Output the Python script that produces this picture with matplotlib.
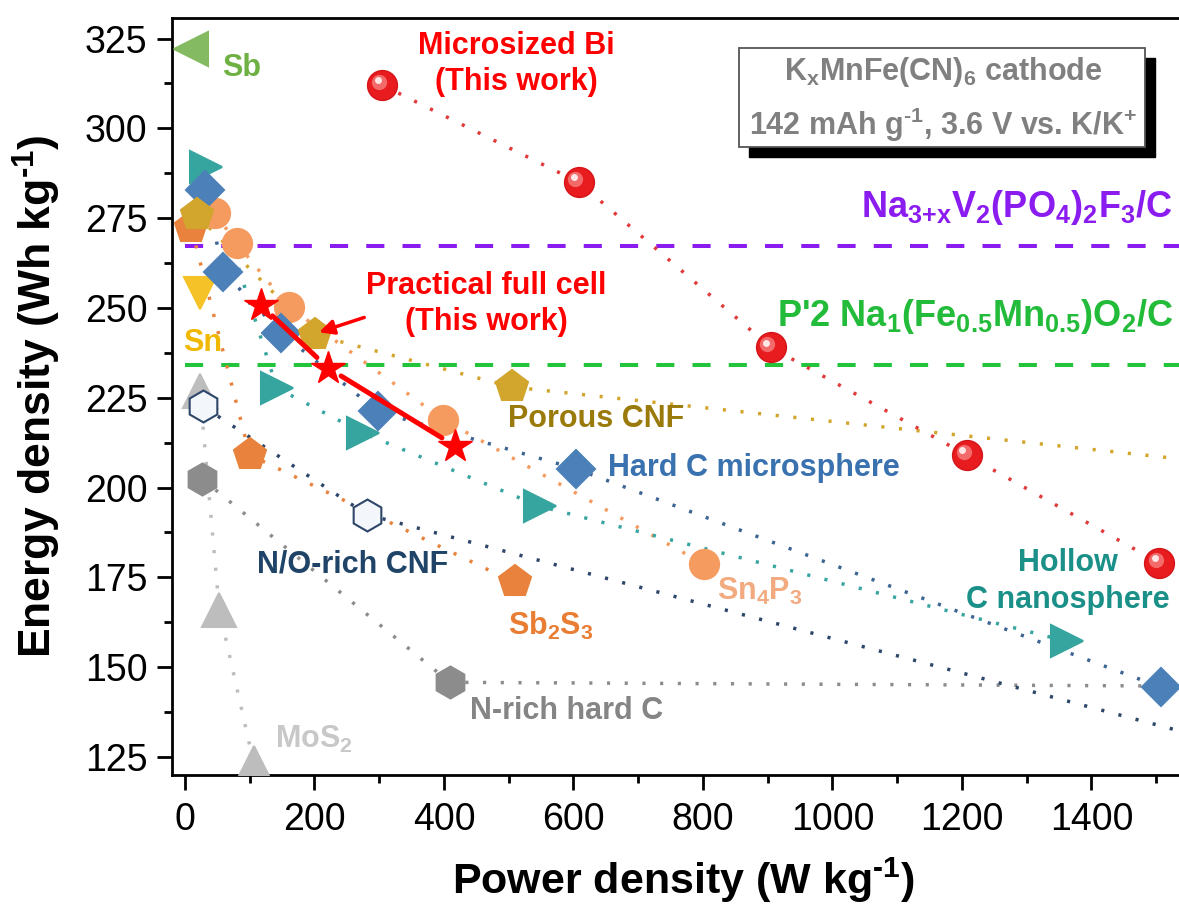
import numpy as np
import matplotlib
matplotlib.use('Agg')
import matplotlib.pyplot as plt
from matplotlib import transforms
from matplotlib.patches import Rectangle
from matplotlib.ticker import MultipleLocator, AutoMinorLocator

plt.rcParams['font.family'] = ['Liberation Sans', 'DejaVu Sans']
plt.rcParams['mathtext.fontset'] = 'custom'
plt.rcParams['mathtext.rm'] = 'Liberation Sans'
plt.rcParams['mathtext.bf'] = 'Liberation Sans:bold'
plt.rcParams['mathtext.it'] = 'Liberation Sans:italic'

# ---- data (power W/kg, energy Wh/kg) ----
bi_power = [305, 608, 905, 1208, 1505]
bi_energy = [312, 285, 239, 209, 179]

cell_power = [118, 221, 417]
cell_energy = [250.7, 233.3, 211.6]

sb_power = [10]
sb_energy = [322]

sn_power = [23]
sn_energy = [254.1]

hollow_power = [33, 142, 275, 548, 1362]
hollow_energy = [289.3, 227.7, 215.2, 194.8, 157.2]

hardc_power = [31, 59, 149, 298, 604, 1508]
hardc_energy = [282.9, 260.1, 243.0, 221.2, 205.2, 144.4]

sn4p3_power = [46, 80, 160, 399, 801]
sn4p3_energy = [276.5, 268.0, 250.4, 218.9, 178.8]

porous_power = [18, 201, 505, 2000]
porous_energy = [275.9, 242.5, 228.0, 199.0]

sb2s3_power = [10, 100, 509]
sb2s3_energy = [272.2, 209.1, 173.6]

mos2_power = [23, 53, 106]
mos2_energy = [226.8, 166.0, 123.4]

nocnf_power = [28, 281, 1800]
nocnf_energy = [222.6, 192.5, 119.6]

nrich_power = [26, 409, 1800]
nrich_energy = [202.5, 145.8, 144.5]

nvpf_level = 267.2      # Na3+xV2(PO4)2F3/C
p2_level = 234.2        # P'2 Na1(Fe0.5Mn0.5)O2/C

HY = '\u2010'   # short hyphen for the "-1" superscripts

fig = plt.figure(figsize=(11.79, 9.06), dpi=100)
ax = fig.add_axes([0.1459, 0.1446, 0.8677, 0.8355])

dot = (0, (0.9, 4.2))
lw_dot = 2.5


def series(x, y, color, marker, ms, lcolor=None, mfc=None, z=3):
    lc = lcolor if lcolor else color
    ax.plot(x, y, linestyle=dot, lw=lw_dot, color=lc, zorder=z)
    ax.plot(x, y, linestyle='none', marker=marker, ms=ms,
            mfc=mfc if mfc else color, mec=color, mew=1.5, zorder=z + 0.5)


series(mos2_power, mos2_energy, '#bdbdbd', '^', 25)
series(nrich_power, nrich_energy, '#8c8c8c', 'h', 23)
series(nocnf_power, nocnf_energy, '#2d4669', 'h', 23, mfc='#f3f6fa')
series(sn_power, sn_energy, '#f5c328', 'v', 23)
series(sb_power, sb_energy, '#84ba62', '<', 24)
series(sb2s3_power, sb2s3_energy, '#e8823c', 'p', 24)
series(sn4p3_power, sn4p3_energy, '#f59b5f', 'o', 21)
series(hollow_power, hollow_energy, '#37a59f', '>', 23)
series(hardc_power, hardc_energy, '#4c80b9', 'D', 19, lcolor='#3d6591')
series(porous_power, porous_energy, '#d2a52d', 'p', 24)

# microsized Bi, glossy red spheres
ax.plot(bi_power, bi_energy, linestyle=dot, lw=lw_dot, color='#e03a3a', zorder=6)
ax.plot(bi_power, bi_energy, linestyle='none', marker='o', ms=21.5,
        mfc='#e81c1f', mec='#d41418', mew=1, zorder=6.5)
shine = transforms.offset_copy(ax.transData, fig=fig, x=-2.5, y=2.5, units='points')
ax.plot(bi_power, bi_energy, linestyle='none', marker='o', ms=11,
        mfc='#f26a6a', mec='none', transform=shine, zorder=6.6)
shine2 = transforms.offset_copy(ax.transData, fig=fig, x=-3.5, y=3.5, units='points')
ax.plot(bi_power, bi_energy, linestyle='none', marker='o', ms=5,
        mfc='#ffe6e6', mec='none', transform=shine2, zorder=6.7)

# practical full cell: red stars joined by solid segments with gaps
for i in range(len(cell_power) - 1):
    ax.annotate('', xy=(cell_power[i + 1], cell_energy[i + 1]),
                xytext=(cell_power[i], cell_energy[i]),
                arrowprops=dict(arrowstyle='-', color='#ff0000', lw=3.6,
                                shrinkA=11, shrinkB=11), zorder=7)
ax.plot(cell_power, cell_energy, linestyle='none', marker='*', ms=25,
        mfc='#ff0000', mec='#ff0000', zorder=8)

# reference cathodes
ax.hlines(nvpf_level, 0, 1700, colors='#8b1cf0', linestyles=(0, (4.5, 4.5)), lw=2.9, zorder=2)
ax.hlines(p2_level, 0, 1700, colors='#22c43c', linestyles=(0, (4.5, 4.5)), lw=2.9, zorder=2)

ax.text(1526, 275.4, r'Na$_{\mathbf{3{+}x}}$V$_{\mathbf{2}}$(PO$_{\mathbf{4}}$)$_{\mathbf{2}}$F$_{\mathbf{3}}$/C',
        color='#8b1cf0', fontsize=26, fontweight='bold', ha='right', va='baseline')
ax.text(1526, 245.0, r"P'2 Na$_{\mathbf{1}}$(Fe$_{\mathbf{0.5}}$Mn$_{\mathbf{0.5}}$)O$_{\mathbf{2}}$/C",
        color='#22bb3a', fontsize=26, fontweight='bold', ha='right', va='baseline')

# labels
lab = dict(fontsize=22, fontweight='bold')
ax.text(512, 318, 'Microsized Bi\n(This work)', color='#ff0000', ha='center', va='center',
        linespacing=1.25, **lab)
ax.text(465, 251.1, 'Practical full cell\n(This work)', color='#ff0000', ha='center', va='center',
        linespacing=1.25, **lab)
ax.text(57, 316.7, 'Sb', color='#6fb043', ha='left', va='center', **lab)
ax.text(-3, 240.2, 'Sn', color='#f0b800', ha='left', va='center', **lab)
ax.text(499, 219.1, 'Porous CNF', color='#9a7a0a', ha='left', va='center', **lab)
ax.text(654, 205.4, 'Hard C microsphere', color='#3a72b0', ha='left', va='center', **lab)
ax.text(822, 168.8, r'Sn$_{\mathbf{4}}$P$_{\mathbf{3}}$', color='#f2aa80', ha='left', va='baseline', **lab)
ax.text(499, 159.1, r'Sb$_{\mathbf{2}}$S$_{\mathbf{3}}$', color='#e87d33', ha='left', va='baseline', **lab)
ax.text(1364, 173.9, 'Hollow\nC nanosphere', color='#1a9088', ha='center', va='center',
        linespacing=1.3, **lab)
ax.text(111, 178.5, 'N/O-rich CNF', color='#1f4468', ha='left', va='center', **lab)
ax.text(440, 137.7, 'N-rich hard C', color='#858585', ha='left', va='center', **lab)
ax.text(139, 127.6, r'MoS$_{\mathbf{2}}$', color='#c8c8c8', ha='left', va='baseline', **lab)

ax.annotate('', xy=(203, 243), xytext=(281, 247.6),
            arrowprops=dict(arrowstyle='-|>', color='#ff0000', lw=2.5, mutation_scale=22),
            zorder=9)

# cathode box with drop shadow
shadow = transforms.offset_copy(ax.transData, fig=fig, x=7.2, y=-7.2, units='points')
ax.add_patch(Rectangle((856, 294.9), 626.6, 27.4, facecolor='black', edgecolor='black',
                       transform=shadow, zorder=9))
ax.add_patch(Rectangle((856, 294.9), 626.6, 27.4, facecolor='white', edgecolor='#555555',
                       lw=1.3, zorder=9.5))
ax.text(1171, 315.6, r'K$_{\mathbf{x}}$MnFe(CN)$_{\mathbf{6}}$ cathode', color='#808080',
        fontsize=22, fontweight='bold', ha='center', va='center', zorder=10)
ax.text(1171, 301.0, r'142 mAh g$^{\mathbf{' + HY + r'1}}$, 3.6 V vs. K/K$^{\mathbf{+}}$',
        color='#808080', fontsize=22, fontweight='bold', ha='center', va='center', zorder=10)

# axes
ax.set_xlim(-20, 1560)
ax.set_ylim(120, 330.7)
ax.xaxis.set_major_locator(MultipleLocator(200))
ax.xaxis.set_minor_locator(AutoMinorLocator(2))
ax.yaxis.set_major_locator(MultipleLocator(25))
ax.yaxis.set_minor_locator(AutoMinorLocator(2))
ax.tick_params(which='major', direction='out', length=10.8, width=2, labelsize=27)
ax.tick_params(which='minor', direction='out', length=5.8, width=2)
ax.tick_params(axis='x', which='major', pad=9)
ax.tick_params(axis='y', which='major', pad=7)
for s in ax.spines.values():
    s.set_linewidth(2)

ax.set_xlabel(r'Power density (W kg$^{\mathbf{' + HY + r'1}}$)', fontsize=31, fontweight='bold')
ax.set_ylabel(r'Energy density (Wh kg$^{\mathbf{' + HY + r'1}}$)', fontsize=32, fontweight='bold')
ax.xaxis.set_label_coords(0.5, -0.106)
ax.yaxis.set_label_coords(-0.107, 0.5)

fig.savefig('out.png', dpi=100)
